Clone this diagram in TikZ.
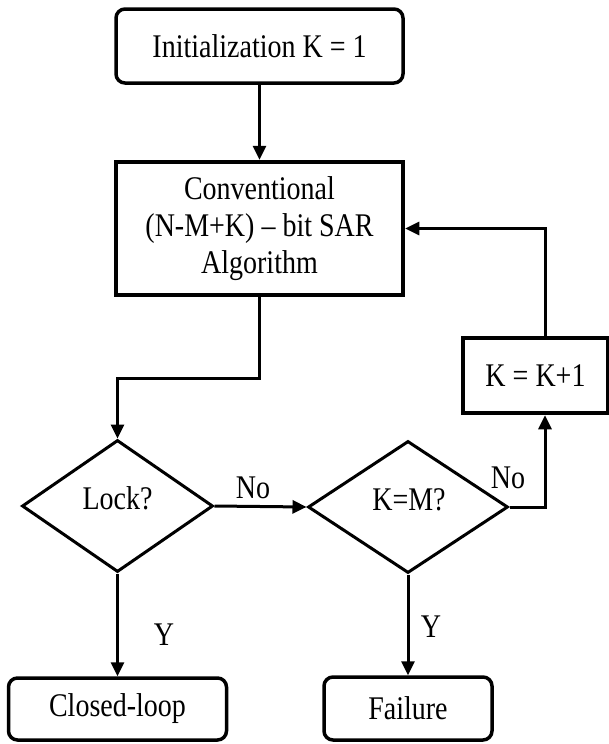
\documentclass[tikz,border=0pt]{standalone}
\usepackage{fontspec}
\usepackage{graphicx}
\setmainfont{Liberation Serif}
\usetikzlibrary{shapes.geometric,arrows.meta}
\newcommand{\tall}[1]{\scalebox{1}[1.18]{#1}}
\begin{document}
\begin{tikzpicture}[x=1pt,y=-1pt,
  every node/.style={font=\fontsize{28}{37}\selectfont, inner sep=0pt},
  rbox/.style={draw, line width=3.5pt, rounded corners=9pt, align=center},
  sbox/.style={draw, line width=4.5pt, align=center},
  dec/.style={draw, diamond, line width=3pt, inner sep=0pt},
  conn/.style={line width=3pt, -{Triangle[length=14pt,width=13pt]}},
  plain/.style={line width=3pt}]
\useasboundingbox (0,0) rectangle (609,744);
% nodes
\node[rbox, minimum width=287pt, minimum height=74pt] (init) at (259.5,46) {\tall{Initialization K = 1}};
\node[sbox, minimum width=287pt, minimum height=133pt] (conv) at (259.5,228.5) {\tall{Conventional}\\\tall{(N-M+K) -- bit SAR}\\\tall{Algorithm}};
\node[sbox, minimum width=145pt, minimum height=75pt] (kk) at (535.5,375.5) {\tall{K = K+1}};
\node[dec, minimum width=191pt, minimum height=132pt] (lock) at (117.5,506) {};
\node (locktxt) at (117.5,498) {\tall{Lock?}};
\node[dec, minimum width=200pt, minimum height=132pt] (kem) at (408,507) {};
\node (kemtxt) at (409,500) {\tall{K=M?}};
\node[rbox, minimum width=218pt, minimum height=62pt] (closed) at (117.5,709) {\tall{Closed-loop}};
\node[rbox, minimum width=168pt, minimum height=63pt] (fail) at (408,708.5) {\tall{Failure}};
% labels
\node (no1) at (253,488) {\tall{No}};
\node (no2) at (508,478) {\tall{No}};
\node (y1) at (164,635) {\tall{Y}};
\node (y2) at (431,627) {\tall{Y}};
% helper coordinates
\coordinate (elbow) at (259.5,378);
\coordinate (kx) at (545,0);
% connectors
\draw[conn] (init) -- (conv);
\draw[conn] (conv.south) -- (elbow) -| (lock.north);
\draw[conn] (lock.east) -- (kem.west);
\draw[conn] (kem.east) -| (kx |- kk.south);
\draw[conn] (kx |- kk.north) |- (conv.east);
\draw[conn] (lock.south) -- (closed.north);
\draw[conn] (kem.south) -- (fail.north);
\end{tikzpicture}
\end{document}
